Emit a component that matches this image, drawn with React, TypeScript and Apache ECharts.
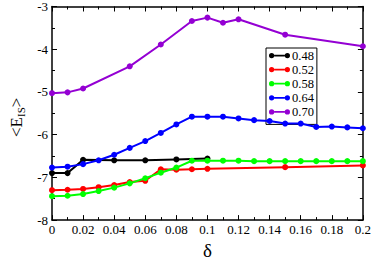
import React, { useEffect, useRef } from "react";
import * as echarts from "echarts";

const seriesNames = ["0.48", "0.52", "0.58", "0.64", "0.70"];
const seriesColors = ["#000000", "#ff0000", "#00ff00", "#0000ff", "#9400d3"];

const x048 = [0, 0.01, 0.02, 0.04, 0.06, 0.08, 0.1];
const y048 = [-6.9, -6.9, -6.59, -6.6, -6.6, -6.58, -6.56];

const x052 = [0, 0.01, 0.02, 0.03, 0.04, 0.05, 0.06, 0.07, 0.08, 0.09, 0.1, 0.15, 0.2];
const y052 = [-7.3, -7.29, -7.27, -7.23, -7.18, -7.11, -7.08, -6.81, -6.82, -6.81, -6.8, -6.76, -6.72];

const x058 = [0, 0.01, 0.02, 0.03, 0.04, 0.05, 0.06, 0.07, 0.08, 0.09, 0.1, 0.11, 0.12, 0.13, 0.14, 0.15, 0.16, 0.17, 0.18, 0.19, 0.2];
const y058 = [-7.44, -7.43, -7.39, -7.32, -7.24, -7.14, -7.02, -6.89, -6.77, -6.61, -6.61, -6.61, -6.61, -6.62, -6.62, -6.62, -6.62, -6.62, -6.62, -6.62, -6.62];

const x064 = [0, 0.01, 0.02, 0.03, 0.04, 0.05, 0.06, 0.07, 0.08, 0.09, 0.1, 0.11, 0.12, 0.13, 0.14, 0.15, 0.16, 0.17, 0.18, 0.19, 0.2];
const y064 = [-6.77, -6.75, -6.69, -6.6, -6.47, -6.31, -6.15, -5.96, -5.76, -5.58, -5.58, -5.58, -5.62, -5.66, -5.68, -5.74, -5.74, -5.82, -5.81, -5.83, -5.85];

const x070 = [0, 0.01, 0.02, 0.05, 0.07, 0.09, 0.1, 0.11, 0.12, 0.15, 0.2];
const y070 = [-5.03, -5.01, -4.92, -4.4, -3.89, -3.34, -3.26, -3.38, -3.3, -3.66, -3.93];

const xs = [x048, x052, x058, x064, x070];
const ys = [y048, y052, y058, y064, y070];

const FONT = "'Liberation Serif', 'Times New Roman', serif";
const legendIcon =
  "path://M0,3a3,3 0 1,0 6,0a3,3 0 1,0 -6,0Z M18,3a3,3 0 1,0 6,0a3,3 0 1,0 -6,0Z M6,2L6,4L18,4L18,2Z";

export default function App() {
  const ref = useRef<HTMLDivElement>(null);
  useEffect(() => {
    document.body.style.margin = "0";
    const chart = echarts.init(ref.current!, null, { renderer: "svg" });
    const axisCommon = {
      axisLine: { show: true, onZero: false, lineStyle: { color: "#000", width: 1.5 } },
      axisTick: { show: true, inside: true, length: 5, lineStyle: { color: "#000", width: 1 } },
      minorTick: { show: true, splitNumber: 2, length: 3, lineStyle: { color: "#000", width: 1 } },
      splitLine: { show: false },
      minorSplitLine: { show: false },
    };
    chart.setOption({
      animation: false,
      grid: { left: 38, right: 9, top: 5, bottom: 32 },
      legend: {
        data: seriesNames,
        orient: "vertical",
        left: 266,
        top: 48,
        itemWidth: 21,
        itemHeight: 6,
        itemGap: 1.1,
        padding: [1, 3, 6, 3],
        borderColor: "#000",
        borderWidth: 1,
        borderRadius: 0,
        backgroundColor: "#fff",
        icon: legendIcon,
        textStyle: { fontFamily: FONT, fontSize: 12.5, color: "#000", lineHeight: 12, padding: [0, 0, 0, -3] },
      },
      xAxis: [
        {
          type: "value",
          min: 0,
          max: 0.2,
          interval: 0.02,
          position: "bottom",
          name: "δ",
          nameLocation: "middle",
          nameGap: 20,
          nameTextStyle: { fontFamily: FONT, fontSize: 19, color: "#000" },
          axisLabel: { fontFamily: FONT, fontSize: 13, color: "#000", margin: 3 },
          ...axisCommon,
        },
        {
          type: "value",
          min: 0,
          max: 0.2,
          interval: 0.02,
          position: "top",
          axisLabel: { show: false },
          ...axisCommon,
        },
      ],
      yAxis: [
        {
          type: "value",
          min: -8,
          max: -3,
          interval: 1,
          position: "left",
          name: "<E{s|IS}>",
          nameLocation: "middle",
          nameGap: 26,
          nameRotate: 90,
          nameTextStyle: {
            fontFamily: FONT,
            fontSize: 17,
            color: "#000",
            padding: [0, 8, 0, 0],
            rich: { s: { fontFamily: FONT, fontSize: 11, color: "#000", verticalAlign: "bottom", padding: [8, 0, 0, 0] } },
          },
          axisLabel: { fontFamily: FONT, fontSize: 13, color: "#000", margin: 4 },
          ...axisCommon,
        },
        {
          type: "value",
          min: -8,
          max: -3,
          interval: 1,
          position: "right",
          axisLabel: { show: false },
          ...axisCommon,
        },
      ],
      series: seriesNames.map((name, i) => ({
        name,
        type: "line",
        xAxisIndex: 0,
        yAxisIndex: 0,
        data: xs[i].map((x, j) => [x, ys[i][j]]),
        symbol: "circle",
        symbolSize: 6,
        showSymbol: true,
        color: seriesColors[i],
        lineStyle: { width: 2, color: seriesColors[i] },
        itemStyle: { color: seriesColors[i] },
        z: 2 + i,
      })),
    });
    return () => chart.dispose();
  }, []);
  return <div ref={ref} style={{ width: 374, height: 265 }} />;
}
